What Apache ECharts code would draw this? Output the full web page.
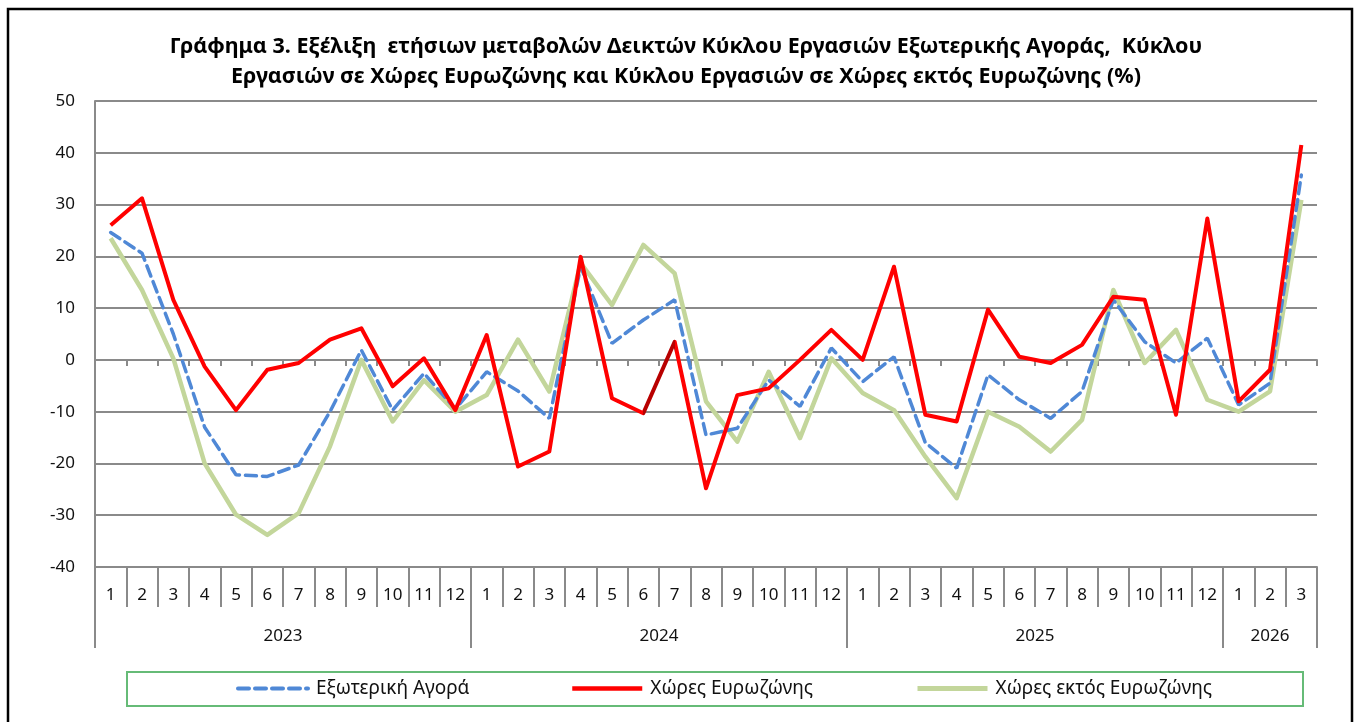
<!DOCTYPE html>
<html>
<head>
<meta charset="utf-8">
<script src="https://cdn.jsdelivr.net/npm/echarts@6/dist/echarts.min.js"></script>
<style>
html,body{margin:0;padding:0;background:#fff;}
#chart{width:1357px;height:722px;}
</style>
</head>
<body>
<div id="chart"></div>
<script>
// ---- data ----
const months = ['1','2','3','4','5','6','7','8','9','10','11','12',
                '1','2','3','4','5','6','7','8','9','10','11','12',
                '1','2','3','4','5','6','7','8','9','10','11','12',
                '1','2','3'];
const years = ['2023','2024','2025','2026'];
const yearMonths = [12, 12, 12, 3];
const yTicks = [-40, -30, -20, -10, 0, 10, 20, 30, 40, 50];

const seriesNames = ['Εξωτερική Αγορά', 'Χώρες Ευρωζώνης', 'Χώρες εκτός Ευρωζώνης'];

const externalMarket = [
  24.6, 20.6, 5.0, -13.0, -22.2, -22.5, -20.3, -10.0, 1.9, -9.7, -2.6, -9.5,
  -2.3, -6.0, -11.3, 18.0, 3.2, 7.7, 11.6, -14.5, -13.2, -3.9, -9.0, 2.3,
  -4.2, 0.6, -16.0, -20.9, -2.9, -7.7, -11.3, -6.1, 11.6, 3.5, -0.6, 4.2,
  -8.7, -4.5, 35.7
];
const euroArea = [
  26.0, 31.2, 11.6, -1.3, -9.7, -1.9, -0.6, 3.9, 6.1, -5.1, 0.3, -9.7,
  4.8, -20.6, -17.7, 19.9, -7.4, -10.3, 3.5, -24.8, -6.8, -5.5, 0.0, 5.8,
  0.0, 18.0, -10.6, -11.9, 9.7, 0.6, -0.6, 2.9, 12.2, 11.6, -10.6, 27.3,
  -8.0, -1.9, 41.5
];
const nonEuroArea = [
  23.5, 13.5, 0.3, -20.0, -29.9, -33.8, -29.6, -16.7, 0.0, -11.9, -3.9, -10.0,
  -6.8, 3.9, -6.1, 18.7, 10.6, 22.2, 16.7, -8.0, -15.8, -2.3, -15.1, 0.3,
  -6.4, -9.7, -18.7, -26.7, -10.0, -12.9, -17.7, -11.6, 13.5, -0.6, 5.8, -7.7,
  -10.0, -6.1, 30.9
];

// ---- derived axis helpers ----
const yearBounds = [0];
yearMonths.forEach(n => yearBounds.push(yearBounds[yearBounds.length - 1] + n));
const yearCenters = yearMonths.map((n, i) => yearBounds[i] + n / 2);

const FONT = '"Noto Sans", "DejaVu Sans", sans-serif';
const GRID_COLOR = '#8a8a8a';
const BLUE = '#4f88d6', RED = '#ff0000', GREEN = '#c3d69b';
const LEGEND_X = [236, 570, 915];
const legendLines = [
  {color: BLUE, width: 4, type: [11, 6]},
  {color: RED, width: 4.5},
  {color: GREEN, width: 5}
];

function legendFor(i) {
  return {
    data: [{name: seriesNames[i], itemStyle: {opacity: 0}, lineStyle: legendLines[i]}],
    left: LEGEND_X[i],
    top: 679,
    padding: 0,
    itemGap: 0,
    itemWidth: 70,
    itemHeight: 18,
    selectedMode: false,
    textStyle: {fontFamily: FONT, fontSize: 19, color: '#111', padding: [0, 0, 0, 3]}
  };
}

const chart = echarts.init(document.getElementById('chart'), null, {renderer: 'canvas'});
chart.setOption({
  backgroundColor: '#ffffff',
  animation: false,
  title: {
    text: 'Γράφημα 3. Εξέλιξη  ετήσιων μεταβολών Δεικτών Κύκλου Εργασιών Εξωτερικής Αγοράς,  Κύκλου\nΕργασιών σε Χώρες Ευρωζώνης και Κύκλου Εργασιών σε Χώρες εκτός Ευρωζώνης (%)',
    left: 681,
    textAlign: 'center',
    top: 27,
    textStyle: {
      fontFamily: FONT, fontWeight: 'bold', fontSize: 21.5, lineHeight: 30, color: '#000'
    }
  },
  graphic: [
    {
      type: 'rect', silent: true, z: 100,
      shape: {x: 8, y: 9, width: 1344, height: 760},
      style: {fill: 'none', stroke: '#000', lineWidth: 2.5}
    },
    {
      type: 'rect', silent: true, z: 0,
      shape: {x: 127, y: 672, width: 1176, height: 34},
      style: {fill: '#fff', stroke: '#66bb77', lineWidth: 2}
    }
  ],
  legend: [legendFor(0), legendFor(1), legendFor(2)],
  grid: {left: 95, top: 101, right: 40, bottom: 155, containLabel: false},
  xAxis: [
    {
      type: 'category',
      data: months,
      position: 'bottom',
      boundaryGap: true,
      axisLine: {onZero: false, show: true, lineStyle: {color: GRID_COLOR, width: 2}},
      axisTick: {show: true, interval: 0, length: 40, lineStyle: {color: GRID_COLOR, width: 2}},
      axisLabel: {interval: 0, margin: 20, fontFamily: FONT, fontSize: 17, color: '#111'},
      splitLine: {show: false}
    },
    {
      type: 'value',
      min: 0,
      max: months.length,
      position: 'bottom',
      axisLine: {onZero: false, show: false},
      axisTick: {show: true, customValues: yearBounds, length: 81, lineStyle: {color: GRID_COLOR, width: 2}},
      axisLabel: {
        show: true, customValues: yearCenters, margin: 61,
        fontFamily: FONT, fontSize: 17, color: '#111',
        formatter: function (v) {
          const idx = yearCenters.indexOf(v);
          return idx >= 0 ? years[idx] : '';
        }
      },
      splitLine: {show: false}
    },
    {
      type: 'category',
      data: months,
      boundaryGap: true,
      axisLine: {onZero: true, show: true, lineStyle: {color: GRID_COLOR, width: 2}},
      axisTick: {show: true, interval: 0, inside: true, length: 6, lineStyle: {color: GRID_COLOR, width: 2}},
      axisLabel: {show: false},
      splitLine: {show: false}
    }
  ],
  yAxis: {
    type: 'value',
    min: yTicks[0],
    max: yTicks[yTicks.length - 1],
    interval: 10,
    axisLine: {show: true, lineStyle: {color: GRID_COLOR, width: 2}},
    axisTick: {show: false},
    axisLabel: {margin: 20, fontFamily: FONT, fontSize: 17, color: '#111'},
    splitLine: {show: true, lineStyle: {color: GRID_COLOR, width: 2}}
  },
  visualMap: {
    show: false,
    type: 'piecewise',
    seriesIndex: 1,
    dimension: 0,
    pieces: [
      {lt: 17, color: RED},
      {gte: 17, lte: 18, color: '#b80000'},
      {gt: 18, color: RED}
    ]
  },
  series: [
    {
      name: seriesNames[0], type: 'line', data: externalMarket, xAxisIndex: 0,
      symbol: 'none', color: BLUE,
      lineStyle: {color: BLUE, width: 3.5, type: [11, 6], cap: 'round'},
      z: 3
    },
    {
      name: seriesNames[1], type: 'line', data: euroArea, xAxisIndex: 0,
      symbol: 'none', color: RED,
      lineStyle: {width: 4, join: 'round'},
      z: 4
    },
    {
      name: seriesNames[2], type: 'line', data: nonEuroArea, xAxisIndex: 0,
      symbol: 'none', color: GREEN,
      lineStyle: {color: GREEN, width: 4.5, join: 'round'},
      z: 2
    }
  ]
});
</script>
</body>
</html>
